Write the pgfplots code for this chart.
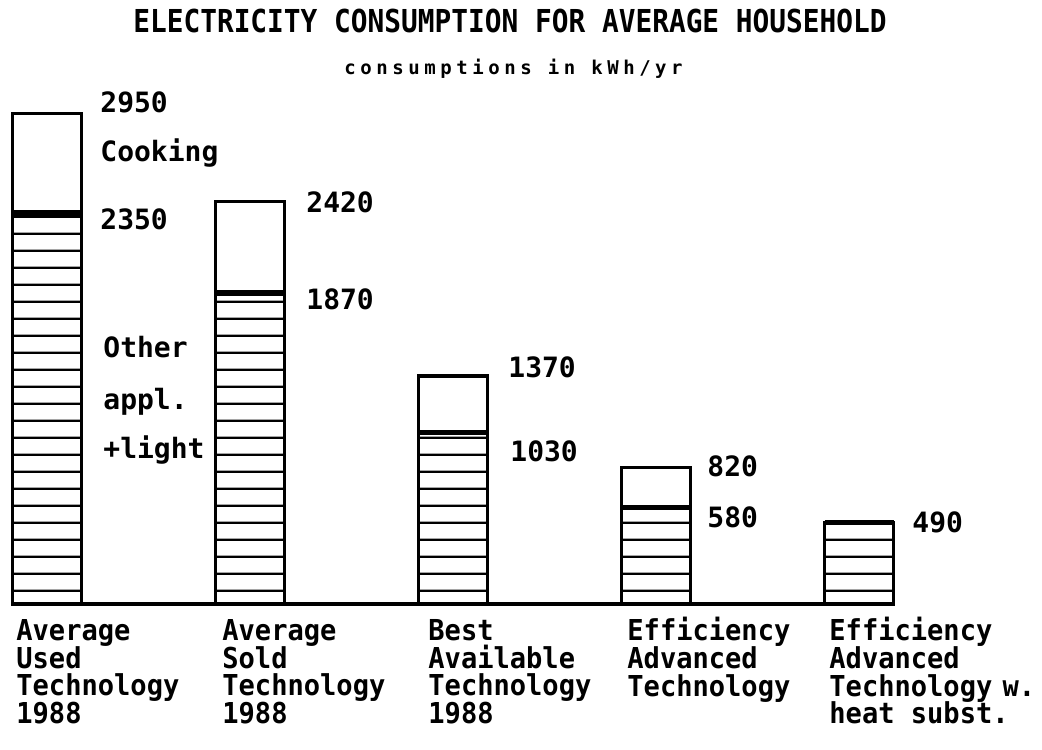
\documentclass[border=0pt]{standalone}
\usepackage{pgfplots}
\pgfplotsset{compat=1.18}
\usepackage{pgfplotstable}
\usepackage{fontspec}
\usetikzlibrary{patterns.meta}
\newfontfamily\pix{DejaVu Sans Mono}[FakeStretch=1.0]
\newfontfamily\pixcat{DejaVu Sans Mono}[FakeStretch=0.94]
\newfontfamily\pixtitle{DejaVu Sans Mono}[FakeStretch=0.88]
\newfontfamily\pixsub{DejaVu Sans Mono}[LetterSpace=24]
\tikzdeclarepattern{
  name=hl,
  type=uncolored,
  bounding box={(0pt,0pt) and (1pt,8.35pt)},
  tile size={(1pt,8.35pt)},
  code={
    \pgfsetlinewidth{1.2pt}
    \pgfpathmoveto{\pgfpoint{-0.5pt}{4.175pt}}
    \pgfpathlineto{\pgfpoint{1.5pt}{4.175pt}}
    \pgfusepath{stroke}
  }
}
\pgfplotstableread{
x total other
0 2950 2350
1 2420 1870
2 1370 1030
3 820 580
4 490 490
}\datatab
\newcommand\nolsk{\lineskiplimit=-30pt\relax\lineskip=0pt\relax}
\begin{document}
\begin{tikzpicture}
\path[use as bounding box] (-6pt,-72.5pt) rectangle (515pt,302pt);
\begin{axis}[
  at={(0,0)}, anchor=south west,
  scale only axis,
  width=441pt, height=249.6pt,
  xmin=-0.1724, xmax=4.1724,
  ymin=0, ymax=3000,
  hide axis,
  clip=false,
]
% totals (cooking on top), white
\addplot[ybar, bar width=34.5pt, bar shift=0pt, draw=black, fill=white, line width=1.6pt]
  table[x=x, y=total] {\datatab};
% other appliances + light, hatched
\addplot[ybar, bar width=34.5pt, bar shift=0pt, draw=black, pattern=hl, pattern color=black, line width=1.6pt]
  table[x=x, y=other] {\datatab};
% separators
\addplot[line width=2.75pt, unbounded coords=jump, mark=none]
  coordinates {(-0.17,2350) (0.17,2350) (0.5,nan)
               (0.83,1870) (1.17,1870) (1.5,nan)
               (1.83,1030) (2.17,1030) (2.5,nan)
               (2.83,580) (3.17,580) (3.5,nan)
               (3.83,490) (4.17,490)};
% baseline
\addplot[line width=1.6pt, mark=none] coordinates {(-0.1724,0) (4.1724,0)};
\end{axis}
% titles
\node[anchor=base, inner sep=0, font=\pixtitle\bfseries\fontsize{15.8}{16}\selectfont] at (249pt,285.5pt) {ELECTRICITY CONSUMPTION FOR AVERAGE HOUSEHOLD};
\node[anchor=base west, inner sep=0, font=\pixsub\bfseries\fontsize{9.5}{10}\selectfont] at (166pt,264.5pt) {consumptions in kWh/yr};
% value labels
\tikzset{vl/.style={anchor=base west, inner sep=0, font=\pix\bfseries\fontsize{14}{14}\selectfont}}
\node[vl] at (44pt,245.5pt) {2950};
\node[vl] at (44pt,221pt) {Cooking};
\node[vl] at (44pt,187pt) {2350};
\node[vl] at (45.5pt,123pt) {Other};
\node[vl] at (45.5pt,97pt) {appl.};
\node[vl] at (45.5pt,73pt) {+light};
\node[vl] at (147pt,195.5pt) {2420};
\node[vl] at (147pt,147pt) {1870};
\node[vl] at (248pt,113pt) {1370};
\node[vl] at (249pt,71pt) {1030};
\node[vl] at (347.5pt,63.5pt) {820};
\node[vl] at (347.5pt,38.5pt) {580};
\node[vl] at (450pt,36pt) {490};
% category labels
\tikzset{cl/.style={anchor=north west, inner sep=0, align=left, font=\pixcat\bfseries\fontsize{14.4}{13.85}\selectfont\nolsk}}
\newcommand\st{\rule{0pt}{11.5pt}}
\node[cl] at (2pt,-6.5pt) {\st Average\\Used\\Technology\\1988};
\node[cl] at (105pt,-6.5pt) {\st Average\\Sold\\Technology\\1988};
\node[cl] at (208pt,-6.5pt) {\st Best\\Available\\Technology\\1988};
\node[cl] at (307.5pt,-6.5pt) {\st Efficiency\\Advanced\\Technology};
\node[cl] at (408.5pt,-6.5pt) {\st Efficiency\\Advanced\\Technology\kern-3pt\ w.\\heat subst.};
\end{tikzpicture}
\end{document}
